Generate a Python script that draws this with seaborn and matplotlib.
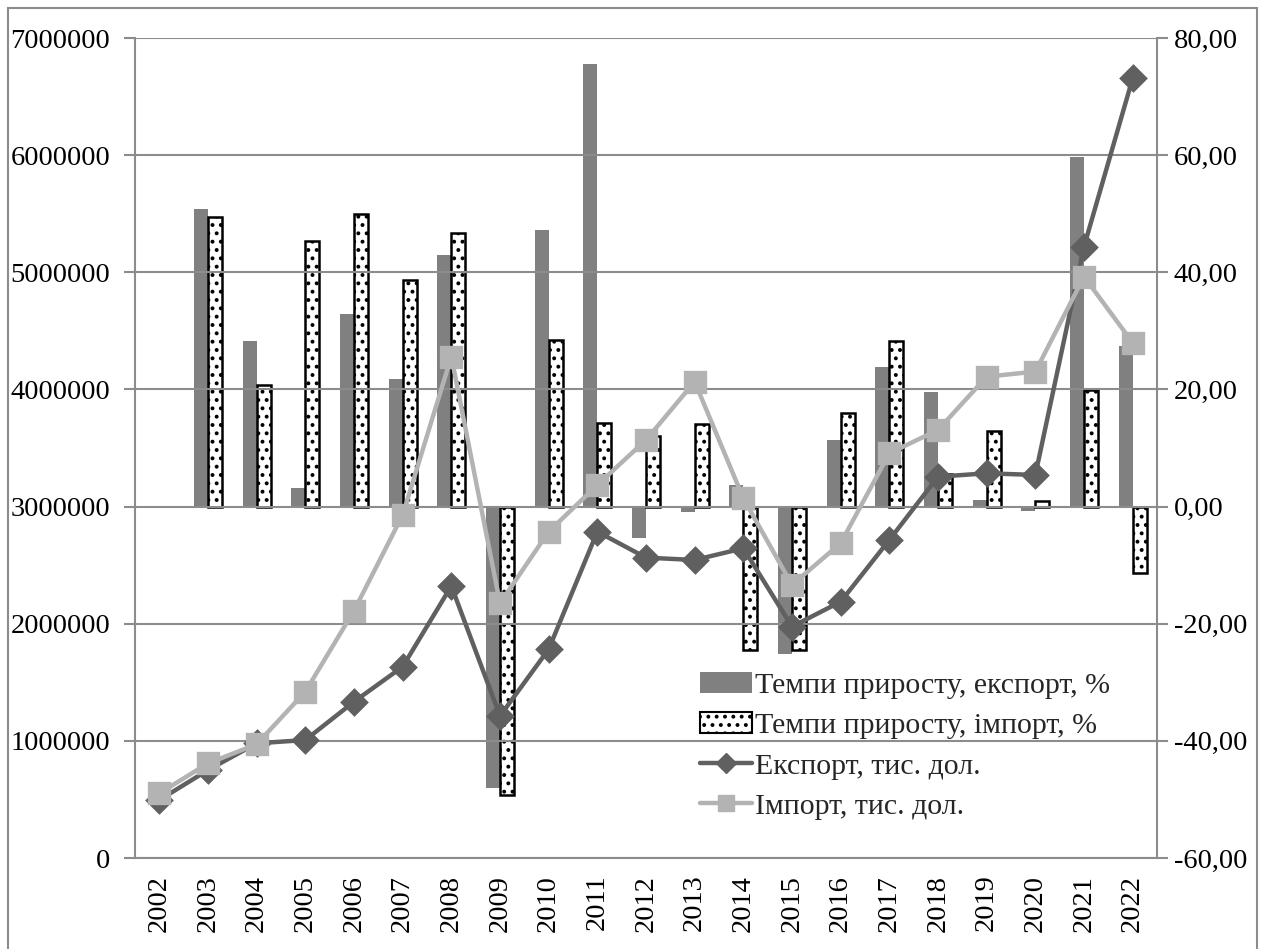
import numpy as np
import pandas as pd
import matplotlib
matplotlib.use('Agg')
import matplotlib.pyplot as plt
from matplotlib.patches import Rectangle, Patch
from matplotlib.lines import Line2D
from matplotlib.ticker import FuncFormatter
import seaborn as sns

# == DATA ==
years = [str(y) for y in range(2002, 2023)]
export_growth = [np.nan, 50.8, 28.3, 3.2, 32.9, 21.8, 42.9, -48.0, 47.2, 75.6, -5.3,
                 -1.0, 3.7, -25.1, 11.3, 23.9, 19.6, 1.2, -0.7, 59.7, 27.4]
import_growth = [np.nan, 49.4, 20.7, 45.3, 50.0, 38.7, 46.7, -49.3, 28.5, 14.2, 12.1,
                 14.1, -24.5, -24.5, 15.9, 28.3, 5.5, 12.9, 0.9, 19.9, -11.3]
export_k = [495000, 751000, 979000, 1007000, 1334000, 1633000, 2322000, 1212000, 1782000,
            2786000, 2564000, 2544000, 2644000, 1975000, 2188000, 2715000, 3255000,
            3284000, 3270000, 5219000, 6656000]
import_k = [552000, 808000, 971000, 1420000, 2111000, 2928000, 4280000, 2174000, 2786000,
            3184000, 3569000, 4066000, 3071000, 2331000, 2687000, 3455000, 3654000,
            4109000, 4152000, 4963000, 4399000]

lab_exp_g = 'Темпи приросту, експорт, %'
lab_imp_g = 'Темпи приросту, імпорт, %'
lab_exp = 'Експорт, тис. дол.'
lab_imp = 'Імпорт, тис. дол.'

df_bars = pd.DataFrame({
    'year': years * 2,
    'value': export_growth + import_growth,
    'series': [lab_exp_g] * len(years) + [lab_imp_g] * len(years),
})
df_lines = pd.DataFrame({'year': years, 'export': export_k, 'import': import_k})

# == STYLE ==
sns.set_theme(style="white")
plt.rcParams['font.family'] = ['Liberation Serif', 'DejaVu Serif']
plt.rcParams['hatch.linewidth'] = 1.6
FS = 20.5
GRID = '#8c8c8c'

fig = plt.figure(figsize=(12.68, 9.49), dpi=100)
fig.patches.append(Rectangle((8 / 1268, -0.01), 1249 / 1268, 1 - 8 / 949 + 0.01,
                             transform=fig.transFigure, fill=False,
                             edgecolor='#8c8c8c', linewidth=1.5))
ax = fig.add_axes([135 / 1268, 1 - 858 / 949, 1022 / 1268, 820 / 949])

# bars (growth rates, right scale)
sns.barplot(data=df_bars, x='year', y='value', hue='series', ax=ax,
            palette=['#808080', 'white'], width=0.58, gap=0, legend=False,
            linewidth=0, saturation=1, zorder=2)
for p in ax.containers[1]:
    p.set_edgecolor('black')
    p.set_linewidth(1.8)
    p.set_hatch('..')
ax.set_ylim(-60, 80)
ax.set_yticks(np.arange(-60, 81, 20))
ax.yaxis.set_major_formatter(FuncFormatter(lambda v, _: f'{v:.2f}'.replace('.', ',')))
ax.yaxis.tick_right()

# lines (values, left scale)
ax2 = ax.twinx()
sns.pointplot(data=df_lines, x='year', y='export', ax=ax2, color='#606060',
              markers='D', markersize=12, linewidth=3.2)
sns.pointplot(data=df_lines, x='year', y='import', ax=ax2, color='#b3b3b3',
              markers='s', markersize=14, linewidth=3.2)
ax2.yaxis.tick_left()
ax2.set_ylim(0, 7000000)
ax2.set_yticks(np.arange(0, 7000001, 1000000))
ax2.yaxis.set_major_formatter(FuncFormatter(lambda v, _: f'{int(v)}'))

# grid and axes look
for y in np.arange(0, 7000001, 1000000):
    ax2.axhline(y, color=GRID, linewidth=1.5, zorder=0)
ax.set_zorder(1)
ax2.set_zorder(2)
ax2.patch.set_visible(False)
ax.set_xlim(-0.5, len(years) - 0.5)
for a in (ax, ax2):
    a.set_xlabel('')
    a.set_ylabel('')
    for s in a.spines.values():
        s.set_visible(False)
for s in ('left', 'right', 'bottom'):
    ax2.spines[s].set_visible(True)
    ax2.spines[s].set_color(GRID)
    ax2.spines[s].set_linewidth(1.5)

ax.set_xticks(range(len(years)))
ax.set_xticklabels(years, rotation=90, fontsize=FS)
ax.set_xticks(np.arange(-0.5, len(years), 1), minor=True)
ax.tick_params(axis='x', which='major', length=0, pad=12)
ax.tick_params(axis='x', which='minor', length=8, width=1.5, color=GRID, direction='out')
ax2.tick_params(axis='x', length=0, labelbottom=False)
ax.tick_params(axis='y', labelsize=FS, length=8, width=1.5, color=GRID, direction='out',
               right=True, left=False, labelright=True, labelleft=False, pad=4)
ax2.tick_params(axis='y', labelsize=FS, length=8, width=1.5, color=GRID, direction='out',
                left=True, right=False, labelleft=True, labelright=False, pad=10)
for lbl in ax.get_yticklabels() + ax2.get_yticklabels() + ax.get_xticklabels():
    lbl.set_color('black')

# legend
handles = [
    Patch(facecolor='#808080', edgecolor='none'),
    Patch(facecolor='white', edgecolor='black', hatch='..', linewidth=1.5),
    Line2D([0], [0], color='#606060', lw=3.2, marker='D', markersize=10),
    Line2D([0], [0], color='#b3b3b3', lw=3.2, marker='s', markersize=12),
]
fig.legend(handles, [lab_exp_g, lab_imp_g, lab_exp, lab_imp], loc='upper left',
           bbox_to_anchor=(688 / 1268, 1 - 660 / 949), frameon=False, fontsize=21.5,
           handlelength=1.75, handletextpad=0.1, labelspacing=0.45, borderaxespad=0,
           handleheight=0.7)

fig.savefig('out.png', dpi=100)
plt.close(fig)
